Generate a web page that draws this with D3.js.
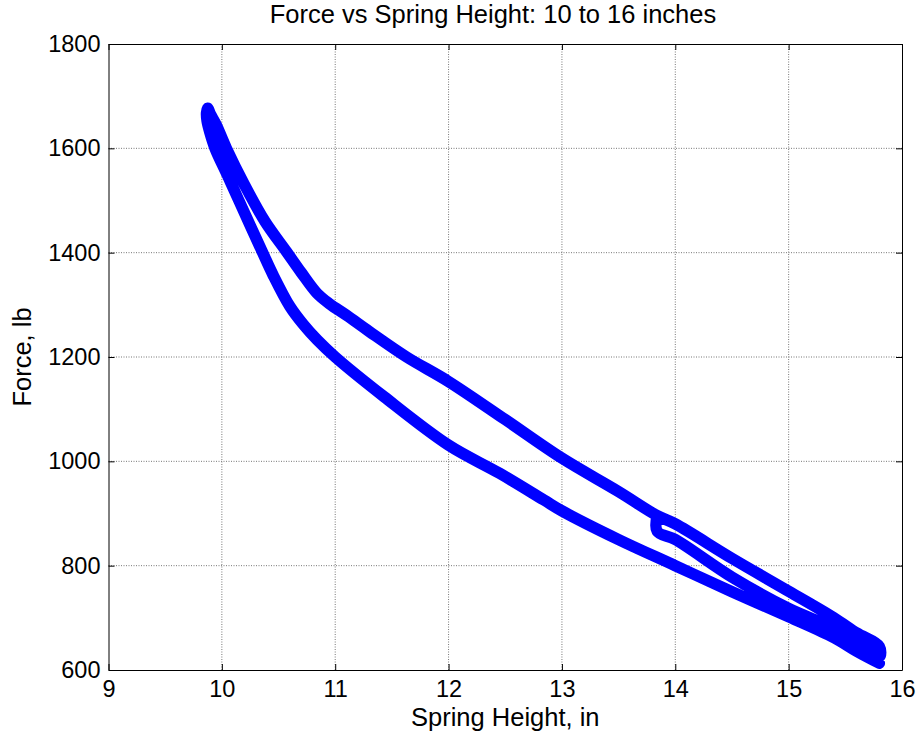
<!DOCTYPE html>
<html>
<head>
<meta charset="utf-8">
<script src="https://cdn.jsdelivr.net/npm/d3@7"></script>
<style>
  html, body { margin: 0; padding: 0; background: #fff; }
  svg { display: block; font-family: "Liberation Sans", Arial, sans-serif; }
</style>
</head>
<body>
<svg id="chart" width="920" height="738"></svg>
<script>
// ticks
const xTicks = [9, 10, 11, 12, 13, 14, 15, 16]
const yTicks = [600, 800, 1000, 1200, 1400, 1600, 1800]

// first part: force drop at 13.84 in, then extension along the middle band
const midX = [13.84, 13.84, 14.0, 14.5, 15.0, 15.4, 15.6, 15.80]
const midY = [896, 866, 850, 778, 718, 680, 652, 625]

// upper branch, read right to left (compression)
const upperX = [15.80, 15.6, 15.4, 15.0, 14.5, 14.0, 13.84, 13.5, 13.0, 12.5, 12.0, 11.63, 11.3, 11.1, 10.95, 10.84, 10.7, 10.57, 10.38, 10.2, 10.04, 9.95, 9.90, 9.875]
const upperY = [645, 671, 700, 751, 814, 880, 896, 942, 1006, 1080, 1153, 1200, 1249, 1280, 1302, 1322, 1362, 1402, 1460, 1530, 1600, 1645, 1665, 1677]

// lower branch, read left to right (extension)
const lowerX = [9.865, 9.87, 9.895, 9.94, 10.05, 10.15, 10.36, 10.45, 10.6, 10.72, 10.84, 11.0, 11.43, 12.0, 12.45, 12.84, 13.0, 13.5, 14.0, 14.5, 15.0, 15.4, 15.6, 15.80]
const lowerY = [1668, 1652, 1630, 1600, 1548, 1500, 1400, 1358, 1297, 1262, 1233, 1200, 1124, 1031, 977, 926, 905, 850, 800, 750, 702, 662, 636, 613]

const width = 920, height = 738
const margin = { left: 108.5, right: 18, top: 44, bottom: 68 }
const plotW = width - margin.left - margin.right
const plotH = height - margin.top - margin.bottom

const svg = d3.select("#chart")

const x = d3.scaleLinear().domain([9, 16]).range([0, plotW])
const y = d3.scaleLinear().domain([600, 1800]).range([plotH, 0])

const g = svg.append("g")
             .attr("transform", "translate(" + margin.left + "," + margin.top + ")")

// grid, dotted like matlab
g.append("g")
 .selectAll("line")
 .data(xTicks.slice(1, -1))
 .join("line")
 .attr("x1", d => x(d)).attr("x2", d => x(d))
 .attr("y1", 0).attr("y2", plotH)
 .attr("stroke", "#777")
 .attr("stroke-dasharray", "1,1.5")

g.append("g")
 .selectAll("line")
 .data(yTicks.slice(1, -1))
 .join("line")
 .attr("x1", 0).attr("x2", plotW)
 .attr("y1", d => y(d)).attr("y2", d => y(d))
 .attr("stroke", "#777")
 .attr("stroke-dasharray", "1,1.5")

// loop path
const pts = []
midX.forEach((v, i) => pts.push([v, midY[i]]))
upperX.forEach((v, i) => pts.push([v, upperY[i]]))
lowerX.forEach((v, i) => pts.push([v, lowerY[i]]))

const line = d3.line()
               .x(d => x(d[0]))
               .y(d => y(d[1]))
               .curve(d3.curveCatmullRom.alpha(0.5))

g.append("path")
 .datum(pts)
 .attr("d", line)
 .attr("fill", "none")
 .attr("stroke", "#0000ff")
 .attr("stroke-width", 11.5)
 .attr("stroke-linejoin", "round")
 .attr("stroke-linecap", "round")

// axes, ticks inward
const tickLen = 6
const fmt = d3.format("d")
const xAxis = g.append("g").attr("transform", "translate(0," + plotH + ")")
               .call(d3.axisBottom(x).tickValues(xTicks).tickFormat(fmt).tickSizeInner(-tickLen).tickSizeOuter(0).tickPadding(10))
const xAxisTop = g.append("g")
                  .call(d3.axisTop(x).tickValues(xTicks).tickSizeInner(-tickLen).tickSizeOuter(0).tickFormat(""))
const yAxis = g.append("g")
               .call(d3.axisLeft(y).tickValues(yTicks).tickFormat(fmt).tickSizeInner(-tickLen).tickSizeOuter(0).tickPadding(8))
const yAxisRight = g.append("g").attr("transform", "translate(" + plotW + ",0)")
                    .call(d3.axisRight(y).tickValues(yTicks).tickSizeInner(-tickLen).tickSizeOuter(0).tickFormat(""))

;[xAxis, xAxisTop, yAxis, yAxisRight].forEach(a => {
    a.select(".domain").attr("stroke", "#000").attr("stroke-width", 1)
    a.selectAll(".tick line").attr("stroke", "#000")
    a.selectAll("text")
     .attr("font-family", "Liberation Sans, Arial, sans-serif")
     .attr("font-size", 23.5)
     .attr("fill", "#000")
})

xAxis.selectAll("text").attr("dy", "0.71em")

// title and labels
svg.append("text")
   .attr("x", 493)
   .attr("y", 23)
   .attr("text-anchor", "middle")
   .attr("font-size", 25.5)
   .text("Force vs Spring Height: 10 to 16 inches")

svg.append("text")
   .attr("x", margin.left + plotW / 2)
   .attr("y", 726)
   .attr("text-anchor", "middle")
   .attr("font-size", 25.5)
   .text("Spring Height, in")

svg.append("text")
   .attr("transform", "translate(31," + (margin.top + plotH / 2) + ") rotate(-90)")
   .attr("text-anchor", "middle")
   .attr("font-size", 25.5)
   .text("Force, lb")
</script>
</body>
</html>
